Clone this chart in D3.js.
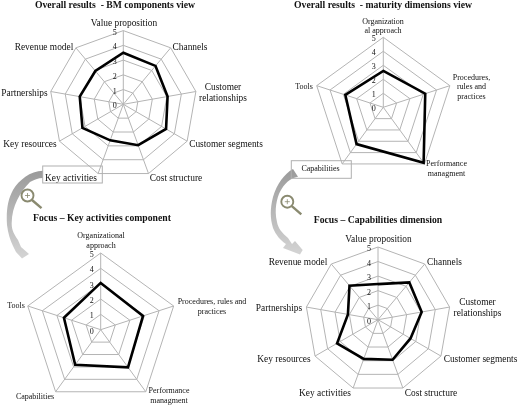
<!DOCTYPE html>
<html>
<head>
<meta charset="utf-8">
<script src="https://cdn.jsdelivr.net/npm/d3@7"></script>
<style>
  html, body { margin: 0; padding: 0; background: #fff; }
  svg { display: block; filter: blur(0.35px); }
  text { font-family: "Liberation Serif", serif; fill: #111; }
</style>
</head>
<body>
<svg id="chart" width="520" height="406"></svg>
<script>
// axis names
let bmComponents = ["Value proposition", "Channels", "Customer relationships", "Customer segments", "Cost structure", "Key activities", "Key resources", "Partnerships", "Revenue model"];
let dimensions = ["Organizational approach", "Procedures, rules and practices", "Performance managment", "Capabilities", "Tools"];
let tickValues = [0, 1, 2, 3, 4, 5];

// values
let overallBm = [3.5, 3.4, 3.05, 3.35, 2.95, 2.6, 3.2, 3.0, 2.95];
let overallMaturity = [2.6, 3.15, 4.9, 3.25, 2.85];
let focusActivities = [3.05, 2.9, 3.03, 2.83, 2.52];
let focusCapabilities = [2.45, 3.35, 3.05, 2.58, 2.93, 2.87, 3.25, 2.1, 3.05];

let svg = d3.select("#chart");

let defs = svg.append("defs");
let grad = defs.append("linearGradient").attr("id", "swoosh")
    .attr("x1", 0).attr("y1", 0).attr("x2", 0).attr("y2", 1);
grad.append("stop").attr("offset", "0%").attr("stop-color", "#9a9a9a");
grad.append("stop").attr("offset", "100%").attr("stop-color", "#d4d4d4");

/**
 *   cx, cy: centre of the radar
 *   radius: pixel radius of the value 5
 *   labels: list of {lines, x, y}, placed by hand like the original
 */
function drawRadar(cx, cy, radius, axes, values, labels, tickDx, fontSize) {
    let g = svg.append("g").attr("transform", "translate(" + cx + "," + cy + ")");
    let rScale = d3.scaleLinear().domain([0, 5]).range([0, radius]);
    let angle = d3.scalePoint().domain(axes).range([0, 2 * Math.PI * (axes.length - 1) / axes.length]);
    let radial = d3.lineRadial().curve(d3.curveLinearClosed);

    // rings
    g.selectAll(".ring")
        .data(tickValues.slice(1))
        .enter()
        .append("path")
        .attr("d", function(t) {
            return radial.angle(function(d) { return angle(d); }).radius(rScale(t))(axes);
        })
        .attr("fill", "none")
        .attr("stroke", "#b4b4b4")
        .attr("stroke-width", 1);

    // spokes
    g.selectAll(".spoke")
        .data(axes)
        .enter()
        .append("line")
        .attr("x1", 0)
        .attr("y1", 0)
        .attr("x2", function(d) { return rScale(5) * Math.sin(angle(d)); })
        .attr("y2", function(d) { return -rScale(5) * Math.cos(angle(d)); })
        .attr("stroke", "#b4b4b4")
        .attr("stroke-width", 1);

    // series
    g.append("path")
        .attr("d", radial
            .angle(function(d, i) { return angle(axes[i]); })
            .radius(function(d) { return rScale(d); })(values))
        .attr("fill", "none")
        .attr("stroke", "#000")
        .attr("stroke-width", 2.6)
        .attr("stroke-linejoin", "miter");

    // tick labels
    g.selectAll(".tick")
        .data(tickValues)
        .enter()
        .append("text")
        .attr("x", tickDx)
        .attr("y", function(d) { return -rScale(d) + 1.5; })
        .attr("dy", "0.32em")
        .attr("text-anchor", "middle")
        .style("font-size", "8px")
        .text(function(d) { return d; });

    // axis labels
    labels.forEach(function(l) {
        let t = svg.append("text")
            .attr("x", l.x)
            .attr("y", l.y)
            .attr("text-anchor", "middle")
            .style("font-size", fontSize + "px");
        l.lines.forEach(function(line, i) {
            t.append("tspan").attr("x", l.x).attr("dy", i === 0 ? 0 : fontSize * 1.2).text(line);
        });
    });
}

function drawTitle(text, x, y) {
    svg.append("text")
        .attr("x", x)
        .attr("y", y)
        .attr("text-anchor", "middle")
        .style("font-size", "9.7px")
        .style("font-weight", "bold")
        .text(text);
}

function drawArrow(d) {
    svg.append("path").attr("d", d).attr("fill", "url(#swoosh)");
}

function drawBox(x, y, w, h) {
    svg.append("rect")
        .attr("x", x).attr("y", y).attr("width", w).attr("height", h)
        .attr("fill", "none")
        .attr("stroke", "#b0b0b0")
        .attr("stroke-width", 1);
}

function drawLens(cx, cy) {
    let lens = svg.append("g").attr("transform", "translate(" + cx + "," + cy + ")")
        .attr("stroke", "#8a8a70").attr("fill", "none");
    lens.append("circle").attr("r", 6).attr("stroke-width", 1.9);
    lens.append("line").attr("x1", 4.5).attr("y1", 4.5).attr("x2", 14).attr("y2", 12.7).attr("stroke-width", 2.4);
    lens.append("path").attr("d", "M-2.5,0H2.5M0,-2.5V2.5").attr("stroke-width", 0.8);
}

// arrows go first, boxes and text sit on them
drawArrow("M43,170.7C30,171 19,180 13,190C8,199 6,210 7,225C8,233 10,240 13,246L16,252L22,258.5L29,254L21,247L18,240C14,234 11.5,230 11.7,223C12,206 20,192 30,182C34,180 38,178 43,178Z");
drawArrow("M293,169C284,174 277,184 273,197C270,209 270,218 273,228C276,235 280,240 286,244L283,248L300,254.5L302.7,250L295,241L292,244L288,238C282,233 278,228 277,222C274,209 277,198 280,191.7C284,184 290,178 298,176.7Z");

drawTitle("Overall results \u00a0- BM components view", 115, 8);
drawTitle("Overall results \u00a0- maturity dimensions view", 383, 8);
drawTitle("Focus \u2013 Key activities component", 102, 221);
drawTitle("Focus \u2013 Capabilities dimension", 378, 223);

drawRadar(123.3, 104.3, 73.7, bmComponents, overallBm, [
    { lines: ["Value proposition"], x: 124, y: 26 },
    { lines: ["Channels"], x: 190, y: 50 },
    { lines: ["Customer", "relationships"], x: 223, y: 89.5 },
    { lines: ["Customer segments"], x: 226, y: 147 },
    { lines: ["Cost structure"], x: 176, y: 180.5 },
    { lines: ["Key activities"], x: 71, y: 181 },
    { lines: ["Key resources"], x: 30, y: 147 },
    { lines: ["Partnerships"], x: 24.5, y: 96 },
    { lines: ["Revenue model"], x: 44, y: 50 }
], -8.5, 9.4);

drawRadar(383.3, 107.3, 70, dimensions, overallMaturity, [
    { lines: ["Organization", "al approach"], x: 383, y: 23.5 },
    { lines: ["Procedures,", "rules and", "practices"], x: 471.5, y: 79.5 },
    { lines: ["Performance", "managment"], x: 446.5, y: 166 },
    { lines: ["Capabilities"], x: 320.5, y: 171 },
    { lines: ["Tools"], x: 304, y: 88.5 }
], -9.5, 8);

drawRadar(100.7, 329.7, 76.7, dimensions, focusActivities, [
    { lines: ["Organizational", "approach"], x: 101, y: 238 },
    { lines: ["Procedures, rules and", "practices"], x: 212, y: 304 },
    { lines: ["Performance", "managment"], x: 169, y: 393 },
    { lines: ["Capabilities"], x: 35, y: 399 },
    { lines: ["Tools"], x: 16, y: 308 }
], -9, 8);

drawRadar(378, 319.7, 72.7, bmComponents, focusCapabilities, [
    { lines: ["Value proposition"], x: 378.5, y: 241.5 },
    { lines: ["Channels"], x: 444.5, y: 265 },
    { lines: ["Customer", "relationships"], x: 477.5, y: 304.5 },
    { lines: ["Customer segments"], x: 480.5, y: 362 },
    { lines: ["Cost structure"], x: 431, y: 395.5 },
    { lines: ["Key activities"], x: 325, y: 395.5 },
    { lines: ["Key resources"], x: 284, y: 362 },
    { lines: ["Partnerships"], x: 279, y: 311 },
    { lines: ["Revenue model"], x: 298, y: 265 }
], -9, 9.4);

drawBox(42.7, 166, 59.6, 17);
drawBox(291.3, 160.7, 60, 17.6);
drawLens(27.5, 195.5);
drawLens(287.3, 201.7);
</script>
</body>
</html>
